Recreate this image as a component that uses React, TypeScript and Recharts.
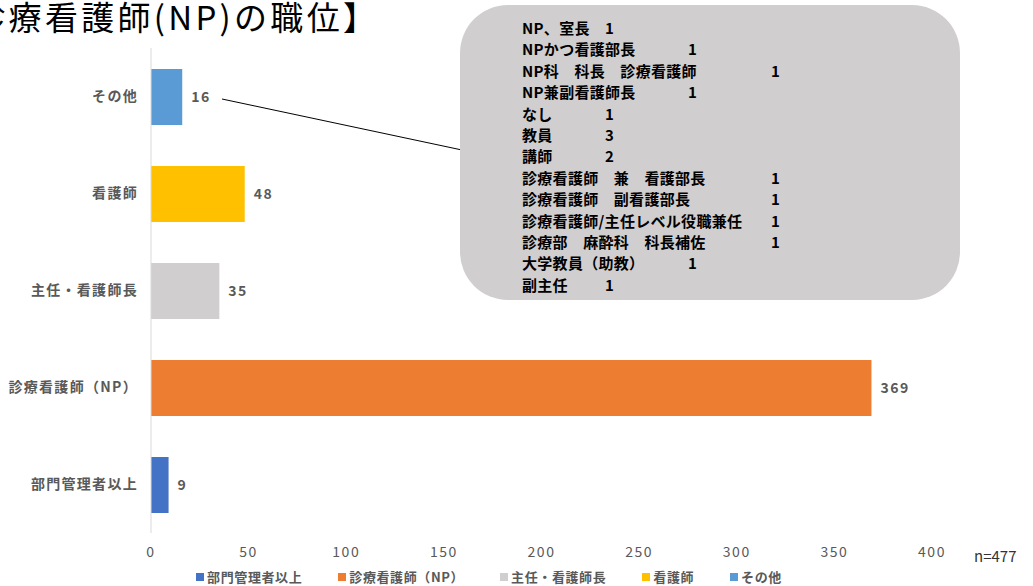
import React from "react";
import { BarChart, Bar, XAxis, YAxis, Legend, LabelList } from "recharts";

const categories = ["その他", "看護師", "主任・看護師長", "診療看護師（NP）", "部門管理者以上"];
const seriesNames = ["部門管理者以上", "診療看護師（NP）", "主任・看護師長", "看護師", "その他"];
const seriesValues = [9, 369, 35, 48, 16];
const seriesColors = ["#4472C4", "#ED7D31", "#D0CECE", "#FFC000", "#5B9BD5"];
const xTicks = [0, 50, 100, 150, 200, 250, 300, 350, 400];

const otherLabels = [
  "NP、室長",
  "NPかつ看護部長",
  "NP科　科長　診療看護師",
  "NP兼副看護師長",
  "なし",
  "教員",
  "講師",
  "診療看護師　兼　看護部長",
  "診療看護師　副看護部長",
  "診療看護師/主任レベル役職兼任",
  "診療部　麻酔科　科長補佐",
  "大学教員（助教）",
  "副主任",
];
const otherCounts = [1, 1, 1, 1, 1, 3, 2, 1, 1, 1, 1, 1, 1];

const FONT = '"Noto Sans CJK JP", "Noto Sans", sans-serif';

// one row per category, each series only fills its own row
const data = categories.map((cat) => {
  const row: Record<string, string | number | null> = { cat };
  seriesNames.forEach((s, i) => {
    row[s] = s === cat ? seriesValues[i] : null;
  });
  return row;
});

const ValueLabel = (props: any) => {
  const { x, y, width, height, value } = props;
  if (value === null || value === undefined) return null;
  return (
    <text
      x={x + width + 9}
      y={y + height / 2}
      dy={5}
      fill="#595959"
      fontSize={14}
      fontWeight={700}
      fontFamily={FONT}
      letterSpacing={1.5}
    >
      {value}
    </text>
  );
};

// legend in series order (recharts reverses it for vertical stacks)
const LegendContent = () => (
  <div style={{ display: "flex", justifyContent: "center", paddingLeft: 40, gap: 36 }}>
    {seriesNames.map((s, i) => (
      <div key={s} style={{ display: "flex", alignItems: "center", gap: 3 }}>
        <span style={{ width: 8, height: 8, background: seriesColors[i], display: "inline-block" }} />
        <span style={{ color: "#595959", fontSize: 13, fontWeight: 700, letterSpacing: 0.6 }}>{s}</span>
      </div>
    ))}
  </div>
);

export default function App() {
  return (
    <div style={{ position: "absolute", left: 0, top: 0, width: 1033, height: 586, background: "#fff", overflow: "hidden", fontFamily: FONT }}>
      <div style={{ position: "absolute", left: -64, top: -8, fontSize: 33, letterSpacing: 3.3, color: "#000", whiteSpace: "nowrap" }}>
        【診療看護師(NP)の職位】
      </div>

      <BarChart
        width={1033}
        height={586}
        data={data}
        layout="vertical"
        margin={{ top: 48, right: 101, bottom: 0, left: 6 }}
        barSize={56}
      >
        <XAxis
          type="number"
          domain={[0, 400]}
          ticks={xTicks}
          axisLine={false}
          tickLine={false}
          tickMargin={8}
          height={35}
          tick={{ fontSize: 14, fill: "#595959", fontFamily: FONT, letterSpacing: 1.5 }}
        />
        <YAxis
          type="category"
          dataKey="cat"
          width={145}
          axisLine={{ stroke: "#D9D9D9" }}
          tickLine={false}
          tickMargin={7}
          tick={{ fontSize: 14, fill: "#595959", fontWeight: 700, fontFamily: FONT, letterSpacing: 1.3 }}
        />
        <Legend verticalAlign="bottom" content={<LegendContent />} wrapperStyle={{ fontFamily: FONT, lineHeight: "18px" }} />
        {seriesNames.map((s, i) => (
          <Bar key={s} dataKey={s} stackId="a" fill={seriesColors[i]} isAnimationActive={false}>
            <LabelList dataKey={s} content={<ValueLabel />} />
          </Bar>
        ))}
      </BarChart>

      <svg style={{ position: "absolute", left: 0, top: 0 }} width={1033} height={586}>
        <line x1={222} y1={99} x2={462} y2={150} stroke="#000" strokeWidth={1} />
      </svg>

      <div
        style={{
          position: "absolute",
          left: 460,
          top: 5,
          width: 500,
          height: 295,
          background: "#D0CECE",
          borderRadius: 48,
          boxSizing: "border-box",
          padding: "12px 0 0 62px",
        }}
      >
        {otherLabels.map((lab, i) => (
          <div
            key={lab}
            style={{ fontSize: 15, fontWeight: 700, color: "#000", lineHeight: "21.4px", whiteSpace: "pre", tabSize: "83px" as any, letterSpacing: 0.3 }}
          >
            {lab + "\t" + otherCounts[i]}
          </div>
        ))}
      </div>

      <div style={{ position: "absolute", left: 974, top: 545, fontSize: 15, color: "#333" }}>n=477</div>
    </div>
  );
}
